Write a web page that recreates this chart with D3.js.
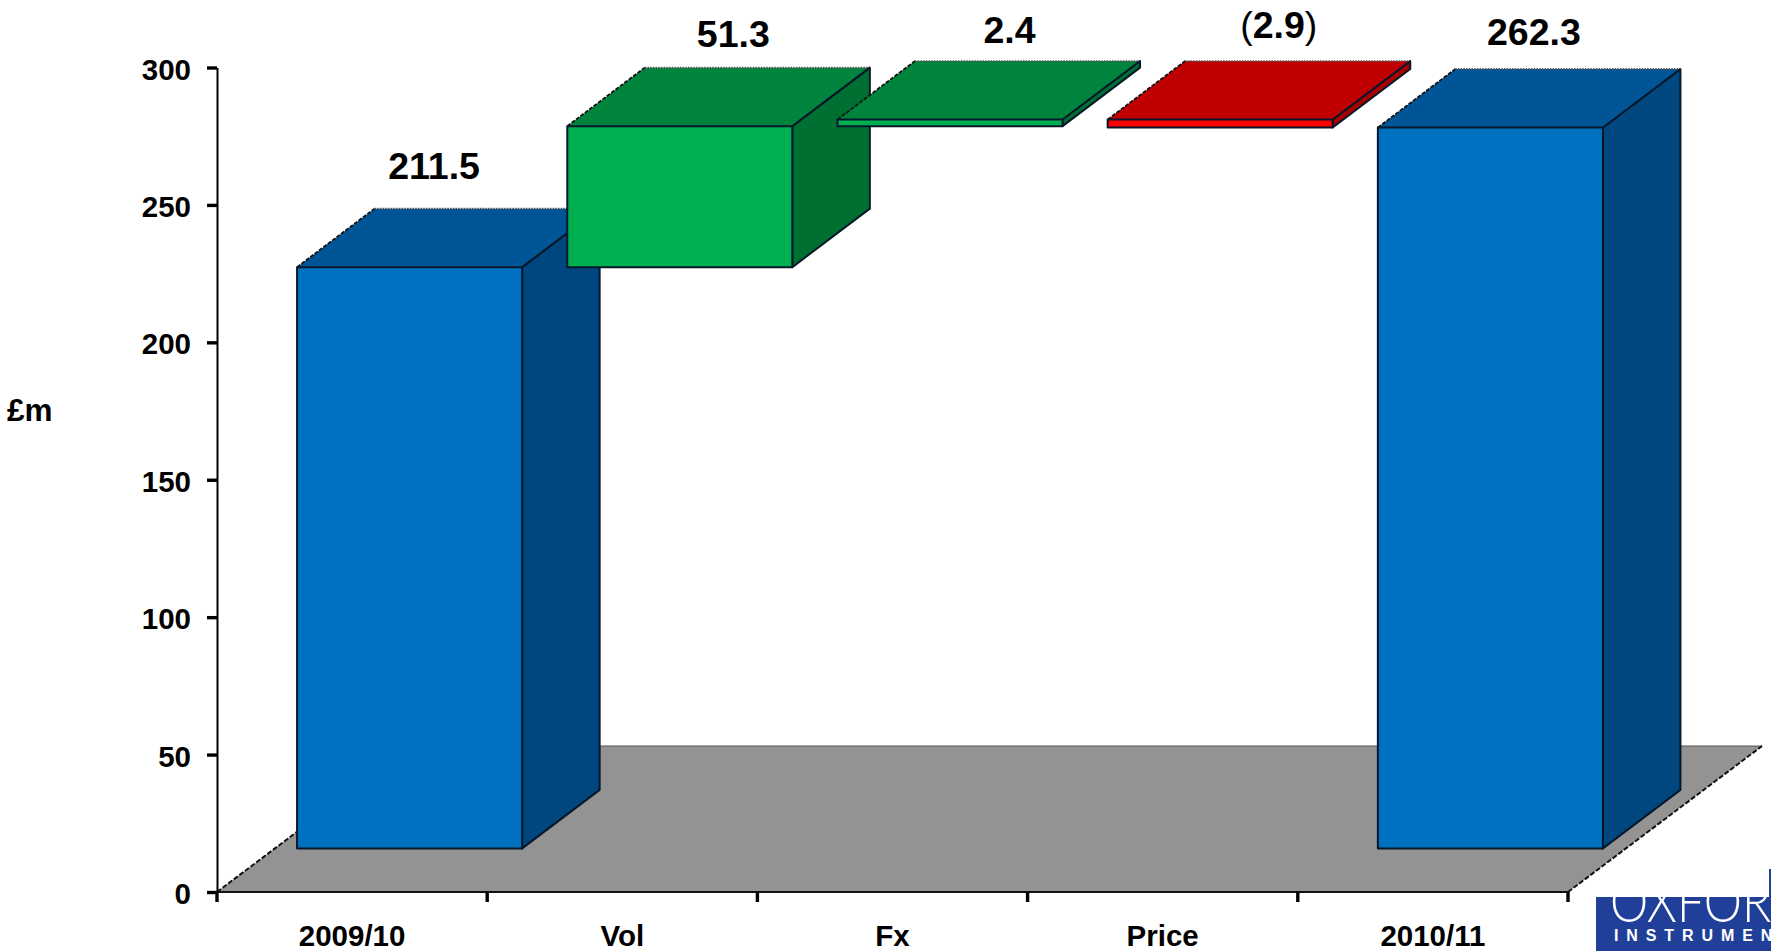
<!DOCTYPE html>
<html>
<head>
<meta charset="utf-8">
<script src="https://cdn.jsdelivr.net/npm/d3@7/dist/d3.min.js"></script>
<style>
html,body{margin:0;padding:0;background:#fff;overflow:hidden}
svg{display:block}
text{font-family:"Liberation Sans",Arial,sans-serif;font-weight:bold;fill:#000}
</style>
</head>
<body>
<svg id="chart" width="1771" height="951"></svg>
<script>
// Revenue bridge, 2009/10 to 2010/11, drawn as a 3D waterfall.
const categories = ["2009/10", "Vol", "Fx", "Price", "2010/11"];
const changes = [211.5, 51.3, 2.4, -2.9, 262.3];
const changeLabels = ["211.5", "51.3", "2.4", "(2.9)", "262.3"];
const isTotal = [true, false, false, false, true];
const yTicks = [0, 50, 100, 150, 200, 250, 300];

const palette = {
  total: { front: "#0070c0", top: "#005596", side: "#00467f" },
  up:    { front: "#00b050", top: "#00843d", side: "#007032" },
  down:  { front: "#ff0000", top: "#c00000", side: "#a80000" }
};

const plot = { left: 217, right: 1568, bottom: 892, top: 67.5 };
const floorDepth = { dx: 194, dy: 146 };
const barDepth = { dx: 77.5, dy: 58.5 };
const barShift = { dx: 57, dy: 43.6 };   // bars stand partway back on the floor

const svg = d3.select("#chart");
const y = d3.scaleLinear().domain([0, 300]).range([plot.bottom, plot.top]);
const x = d3.scaleBand().domain(categories).range([plot.left, plot.right])
  .paddingInner(0.167).paddingOuter(0.0835);
const edges = d3.scaleLinear().domain([0, categories.length]).range([plot.left, plot.right]);

// Running total turns the changes into floating segments.
let running = 0;
const segments = categories.map((name, i) => {
  let low, high;
  if (isTotal[i]) { low = 0; high = changes[i]; running = changes[i]; }
  else { const next = running + changes[i]; low = Math.min(running, next); high = Math.max(running, next); running = next; }
  return { name, low, high, colors: isTotal[i] ? palette.total : changes[i] >= 0 ? palette.up : palette.down };
});

const pts = a => a.map(p => p.join(",")).join(" ");

// Floor
const floor = [
  [plot.left, plot.bottom], [plot.right, plot.bottom],
  [plot.right + floorDepth.dx, plot.bottom - floorDepth.dy],
  [plot.left + floorDepth.dx, plot.bottom - floorDepth.dy]
];
svg.append("polygon").attr("points", pts(floor)).attr("fill", "#939393");
svg.append("line").attr("x1", floor[3][0]).attr("y1", floor[3][1]).attr("x2", floor[2][0]).attr("y2", floor[2][1])
  .attr("stroke", "#555").attr("stroke-width", 1);
[[floor[0], floor[3]], [floor[1], floor[2]]].forEach(([a, b]) => {
  svg.append("line").attr("x1", a[0]).attr("y1", a[1]).attr("x2", b[0]).attr("y2", b[1])
    .attr("stroke", "#111").attr("stroke-width", 2).attr("stroke-dasharray", "5 2");
});

// Bars, one group per step so that later steps overlap earlier ones
const bars = svg.selectAll("g.bar").data(segments).join("g").attr("class", "bar");
bars.each(function (d) {
  const g = d3.select(this);
  const x0 = x(d.name) + barShift.dx + 0.5, x1 = x0 + x.bandwidth();
  const yTop = y(d.high) - barShift.dy, yBot = y(d.low) - barShift.dy;
  const { dx, dy } = barDepth;
  const edge = { stroke: "#06182a", "stroke-width": 2, "stroke-linejoin": "round" };
  const face = (points, fill) => {
    const p = g.append("polygon").attr("points", pts(points)).attr("fill", fill);
    Object.entries(edge).forEach(([k, v]) => p.attr(k, v));
  };
  face([[x1, yTop], [x1 + dx, yTop - dy], [x1 + dx, yBot - dy], [x1, yBot]], d.colors.side);
  g.append("polygon").attr("points", pts([[x0, yTop], [x1, yTop], [x1 + dx, yTop - dy], [x0 + dx, yTop - dy]]))
    .attr("fill", d.colors.top);
  // serrated rear and left edges of the top face
  g.append("line").attr("x1", x0).attr("y1", yTop).attr("x2", x0 + dx).attr("y2", yTop - dy)
    .attr("stroke", "#111").attr("stroke-width", 1.8).attr("stroke-dasharray", "4 1.5");
  g.append("line").attr("x1", x0 + dx).attr("y1", yTop - dy).attr("x2", x1 + dx).attr("y2", yTop - dy)
    .attr("stroke", "#555").attr("stroke-width", 1.8).attr("stroke-dasharray", "1.5 1.2");
  g.append("line").attr("x1", x1).attr("y1", yTop).attr("x2", x1 + dx).attr("y2", yTop - dy)
    .attr("stroke", edge.stroke).attr("stroke-width", 2);
  face([[x0, yTop], [x1, yTop], [x1, yBot], [x0, yBot]], d.colors.front);
});

// Value labels above each bar; label offsets from the bar's rear top corner
const labelNudge = [[25, -30], [54, -20.5], [60, -18.5], [59, -23.5], [44, -24]];
segments.forEach((d, i) => {
  const t = svg.append("text")
    .attr("x", x(d.name) + barShift.dx + x.bandwidth() / 2 + labelNudge[i][0])
    .attr("y", y(d.high) - barShift.dy - barDepth.dy + labelNudge[i][1])
    .attr("text-anchor", "middle").attr("font-size", 37.5);
  const m = changeLabels[i].match(/^\((.*)\)$/);
  if (m) {
    t.append("tspan").attr("font-weight", "normal").text("(");
    t.append("tspan").text(m[1]);
    t.append("tspan").attr("font-weight", "normal").text(")");
  } else t.text(changeLabels[i]);
});

// Value axis
const yAxis = d3.axisLeft(y).tickValues(yTicks).tickSize(10).tickPadding(16).tickSizeOuter(0);
const yG = svg.append("g").attr("transform", `translate(${plot.left},0)`).call(yAxis);
yG.select(".domain").attr("stroke", "#000").attr("stroke-width", 2);
yG.selectAll(".tick line").attr("stroke", "#000").attr("stroke-width", 3.4);
yG.selectAll(".tick text").attr("font-size", 29.5).attr("dy", "0.39em").attr("fill", "#000");
yG.attr("font-family", null).attr("font-size", null);

// Category axis: ticks sit on the band edges, labels at the band centres
const xG = svg.append("g");
xG.append("line").attr("x1", plot.left).attr("x2", plot.right).attr("y1", plot.bottom).attr("y2", plot.bottom)
  .attr("stroke", "#111").attr("stroke-width", 2);
xG.selectAll("line.tick").data(d3.range(categories.length + 1)).join("line").attr("class", "tick")
  .attr("x1", i => edges(i)).attr("x2", i => edges(i))
  .attr("y1", plot.bottom).attr("y2", plot.bottom + 10)
  .attr("stroke", "#000").attr("stroke-width", 3.4);
xG.selectAll("text").data(categories).join("text")
  .attr("x", d => x(d) + x.bandwidth() / 2).attr("y", 946)
  .attr("text-anchor", "middle").attr("font-size", 29.5).text(d => d);

svg.append("text").attr("x", 7).attr("y", 421).attr("font-size", 31.5).text("£m");

// Company mark, cropped at the page corner
const defs = svg.append("defs");
defs.append("clipPath").attr("id", "markClip").append("rect")
  .attr("x", 1596).attr("y", 897).attr("width", 175).attr("height", 54);
const mark = svg.append("g").attr("clip-path", "url(#markClip)");
svg.append("rect").attr("x", 1769).attr("y", 869).attr("width", 2).attr("height", 28).attr("fill", "#1f3f98");
mark.append("rect").attr("x", 1596).attr("y", 897).attr("width", 175).attr("height", 54).attr("fill", "#1f3f98");
mark.append("text").attr("x", 1610).attr("y", 922).attr("font-size", 58)
  .style("font-family", "Lato, 'Liberation Sans', sans-serif").style("font-weight", 300)
  .style("fill", "#fff").attr("textLength", 198).attr("lengthAdjust", "spacingAndGlyphs").text("OXFORD");
mark.append("text").attr("x", 1614).attr("y", 941).attr("font-size", 16)
  .style("fill", "#fff").style("letter-spacing", "7.9px").text("INSTRUMENTS");
</script>
</body>
</html>
